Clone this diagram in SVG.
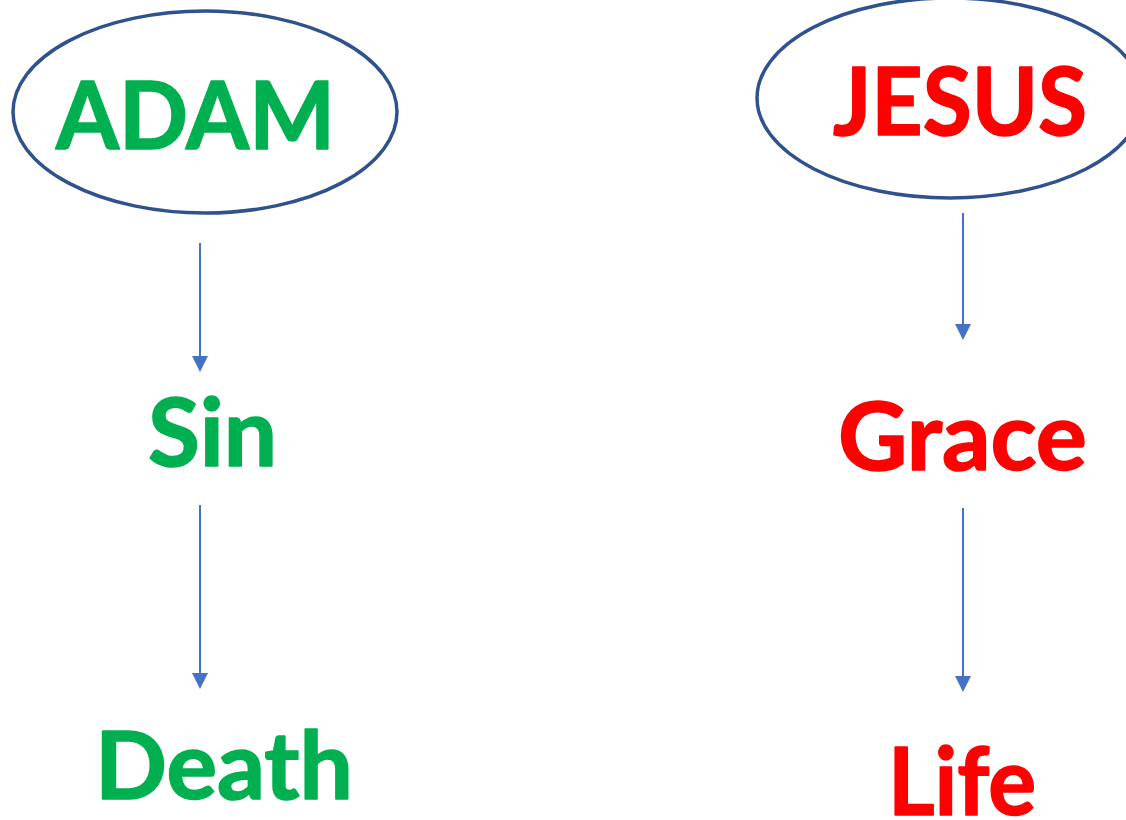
<svg xmlns="http://www.w3.org/2000/svg" width="1126" height="820" viewBox="0 0 1126 820">
<defs>
<style>
.t{font-family:"Lato","Open Sans","Liberation Sans",sans-serif;font-weight:bold;font-size:94px;stroke-width:1.6;stroke-linejoin:round}
.g{fill:#00B050;stroke:#00B050}
.r{fill:#FF0000;stroke:#FF0000}
.ell{fill:#FFFFFF;stroke:#2F528F;stroke-width:3.5}
.c{stroke:#4472C4;stroke-width:2;fill:none}
</style>
<marker id="ah" markerWidth="8" markerHeight="8" refX="7" refY="4" orient="auto" markerUnits="strokeWidth">
<path d="M0,0 L8,4 L0,8 Z" fill="#4472C4"/>
</marker>
</defs>
<rect width="1126" height="820" fill="#FFFFFF"/>
<g id="adam">
<ellipse class="ell" cx="205" cy="112" rx="192" ry="101"/>
<text class="t g" x="56" y="149" textLength="279" lengthAdjust="spacingAndGlyphs">ADAM</text>
</g>
<g id="jesus">
<ellipse class="ell" cx="950" cy="98" rx="193" ry="100"/>
<text class="t r" x="833" y="135" textLength="254" lengthAdjust="spacingAndGlyphs">JESUS</text>
</g>
<g id="sin"><text class="t g" x="148" y="466" textLength="129" lengthAdjust="spacingAndGlyphs">Sin</text></g>
<g id="grace"><text class="t r" x="838" y="470" textLength="249" lengthAdjust="spacingAndGlyphs">Grace</text></g>
<g id="death"><text class="t g" x="95" y="799" textLength="258" lengthAdjust="spacingAndGlyphs">Death</text></g>
<g id="life"><text class="t r" x="888" y="815" textLength="148" lengthAdjust="spacingAndGlyphs">Life</text></g>
<g id="connectors">
<line class="c" x1="200" y1="243" x2="200" y2="370" marker-end="url(#ah)"/>
<line class="c" x1="200" y1="505" x2="200" y2="687" marker-end="url(#ah)"/>
<line class="c" x1="963" y1="213" x2="963" y2="338" marker-end="url(#ah)"/>
<line class="c" x1="963" y1="508" x2="963" y2="690" marker-end="url(#ah)"/>
</g>
</svg>
